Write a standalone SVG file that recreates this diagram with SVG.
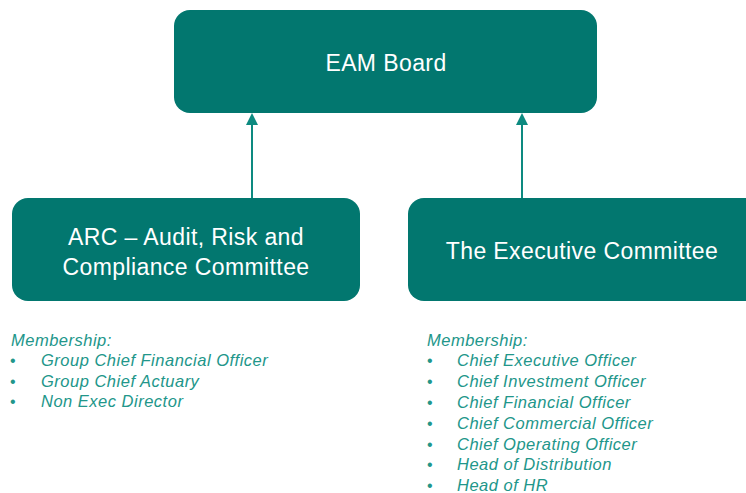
<svg xmlns="http://www.w3.org/2000/svg" width="746" height="493" viewBox="0 0 746 493">
<defs>
<style>
.box{fill:#02776f}
.bt{fill:#ffffff;font-family:"Liberation Sans",Arial,sans-serif;font-size:23px;letter-spacing:0.4px;text-anchor:middle}
.mem{fill:#22968a;font-family:"Liberation Sans",Arial,sans-serif;font-size:16.5px;letter-spacing:0.5px;font-style:italic}
.bul{fill:#22968a;font-family:"Liberation Sans",Arial,sans-serif;font-size:16px}
.conn{stroke:#0d8a80;stroke-width:2;fill:none}
</style>
</defs>
<rect width="746" height="493" fill="#ffffff"/>
<g id="connectors">
<line class="conn" x1="252" y1="198" x2="252" y2="125"/>
<path d="M246,125 L252,113 L258,125 Z" fill="#0d8a80"/>
<line class="conn" x1="522" y1="198" x2="522" y2="125"/>
<path d="M516,125 L522,113 L528,125 Z" fill="#0d8a80"/>
</g>
<g id="eam-board">
<rect class="box" x="174" y="10" width="423" height="103" rx="16"/>
<text class="bt" x="386" y="71">EAM Board</text>
</g>
<g id="arc">
<rect class="box" x="12" y="198" width="348" height="103" rx="16"/>
<text class="bt" x="186" y="245">ARC – Audit, Risk and</text>
<text class="bt" x="186" y="275">Compliance Committee</text>
</g>
<g id="exec">
<rect class="box" x="408" y="198" width="354" height="103" rx="16"/>
<text class="bt" x="582" y="259">The Executive Committee</text>
</g>
<g id="arc-membership">
<text class="mem" x="11" y="346">Membership:</text>
<text class="bul" x="10" y="366">•</text><text class="mem" x="41" y="366">Group Chief Financial Officer</text>
<text class="bul" x="10" y="386.5">•</text><text class="mem" x="41" y="386.5">Group Chief Actuary</text>
<text class="bul" x="10" y="407">•</text><text class="mem" x="41" y="407">Non Exec Director</text>
</g>
<g id="exec-membership">
<text class="mem" x="427" y="346">Membership:</text>
<text class="bul" x="427" y="366">•</text><text class="mem" x="457" y="366">Chief Executive Officer</text>
<text class="bul" x="427" y="387">•</text><text class="mem" x="457" y="387">Chief Investment Officer</text>
<text class="bul" x="427" y="408">•</text><text class="mem" x="457" y="408">Chief Financial Officer</text>
<text class="bul" x="427" y="428.5">•</text><text class="mem" x="457" y="428.5">Chief Commercial Officer</text>
<text class="bul" x="427" y="449.5">•</text><text class="mem" x="457" y="449.5">Chief Operating Officer</text>
<text class="bul" x="427" y="470">•</text><text class="mem" x="457" y="470">Head of Distribution</text>
<text class="bul" x="427" y="491">•</text><text class="mem" x="457" y="491">Head of HR</text>
</g>
</svg>
